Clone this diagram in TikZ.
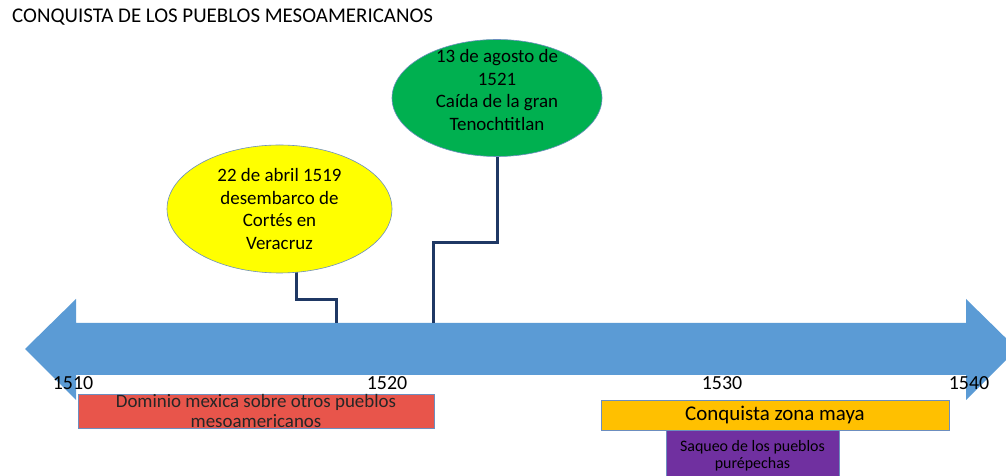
\documentclass[tikz,border=0pt]{standalone}
\usepackage{fontspec}
\setmainfont{Carlito}
\usetikzlibrary{shapes.geometric}
\definecolor{axisblue}{HTML}{5B9BD5}
\definecolor{navy}{HTML}{1F3864}
\definecolor{evred}{HTML}{E8554B}
\definecolor{evgold}{HTML}{FFC000}
\definecolor{evpurple}{HTML}{7030A0}
\definecolor{evgreen}{HTML}{00B050}
\definecolor{evyellow}{HTML}{FFFF00}
\definecolor{rim}{HTML}{6C8EBF}
\tikzset{
  conn/.style={draw=navy, line width=3bp},
  bubble/.style={ellipse, draw=rim, line width=0.6bp, inner sep=0pt},
  bubbletext/.style={align=center, font=\fontsize{19}{23}\selectfont, inner sep=0pt},
  yearlabel/.style={font=\fontsize{20}{24}\selectfont, inner sep=0pt},
  bar/.style={draw=rim, line width=0.6bp},
}
\begin{document}
\begin{tikzpicture}[x=1bp,y=-1bp]
\clip (0,0) rectangle (1006,476);
\fill[white] (0,0) rectangle (1006,476);
% title
\node[anchor=west, inner sep=0pt, font=\fontsize{21}{25}\selectfont] (title) at (12,17) {CONQUISTA DE LOS PUEBLOS MESOAMERICANOS};
% axis arrow
\fill[axisblue] (25,349) -- (76,299) -- (76,323) -- (966,323) -- (966,299) -- (1017,349) -- (966,400) -- (966,375) -- (76,375) -- (76,400) -- cycle;
\coordinate (t1519) at (336,323);
\coordinate (t1521) at (433,323);
% event bubbles (positions)
\path (279.5,209) coordinate (c1);
\path (497,98) coordinate (c2);
% connectors
\draw[conn] (t1519) -- ++(0,-23) -| ([xshift=17bp]c1);
\draw[conn] (t1521) -- ++(0,-80) -| (c2);
% bubbles
\node[bubble, fill=evyellow, minimum width=225bp, minimum height=128bp] (ev1) at (c1) {};
\node[bubbletext] (ev1t) at (c1) {22 de abril 1519\\desembarco de\\Cortés en\\Veracruz};
\node[bubble, fill=evgreen, minimum width=210bp, minimum height=117bp] (ev2) at (c2) {};
\node[bubbletext] (ev2t) at (497,90) {13 de agosto de\\1521\\Caída de la gran\\Tenochtitlan};
% years
\node[yearlabel] (y1510) at (73,383) {1510};
\node[yearlabel] (y1520) at (387,383) {1520};
\node[yearlabel] (y1530) at (722,383) {1530};
\node[yearlabel] (y1540) at (969,383) {1540};
% period bars
\draw[bar, fill=evred] (78,394) rectangle (434,428);
\node[align=center, inner sep=0pt, font=\fontsize{19}{21}\selectfont, text=black!85] (dom) at (256,411) {Dominio mexica sobre otros pueblos\\mesoamericanos};
\draw[bar, fill=evgold] (601,400) rectangle (949,430);
\node[inner sep=0pt, font=\fontsize{21}{25}\selectfont] (maya) at (775,415) {Conquista zona maya};
\draw[bar, fill=evpurple] (666,430) rectangle (839,490);
\node[align=center, inner sep=0pt, font=\fontsize{16}{17}\selectfont] (pure) at (752.5,456) {Saqueo de los pueblos\\purépechas};
\end{tikzpicture}
\end{document}
